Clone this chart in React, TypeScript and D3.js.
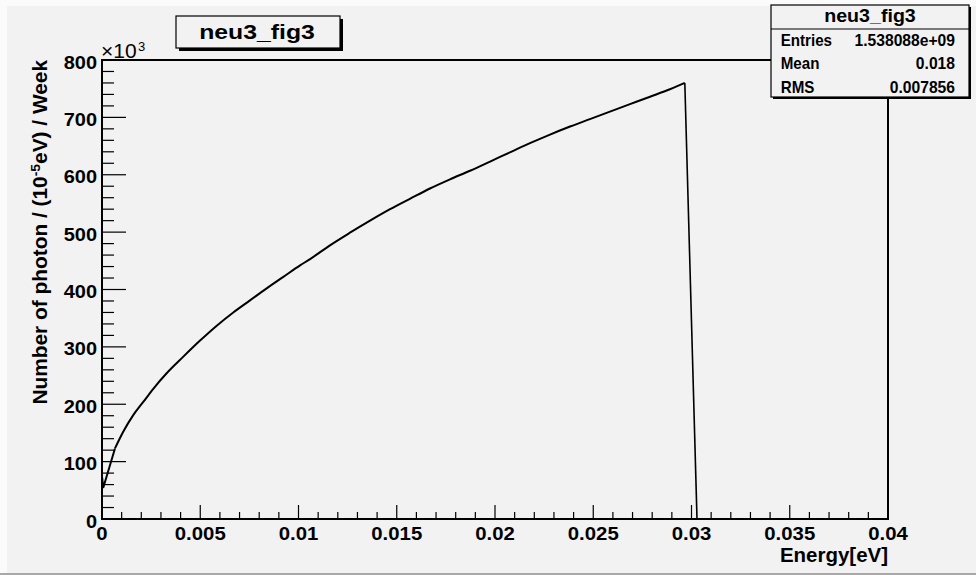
import React from "react";
import * as d3 from "d3";

// Photon energy spectrum (histogram drawn as a polyline)
const energy = [
  0.00001, 0.00006, 0.00066, 0.00108, 0.00159, 0.0021, 0.00261, 0.00329, 0.00414,
  0.00499, 0.00584, 0.00668, 0.00753, 0.00838, 0.00923, 0.01008, 0.01059, 0.0116,
  0.01262, 0.01364, 0.01466, 0.01567, 0.01669, 0.01771, 0.01873, 0.01975, 0.02076,
  0.02178, 0.0228, 0.02382, 0.02483, 0.02585, 0.02687, 0.02789, 0.0289, 0.02966,
  0.03028,
];
const photons = [
  72, 54, 123, 152, 181, 204, 227, 254, 283,
  311, 337, 360, 381, 402, 422, 442, 453, 477,
  499, 520, 540, 558, 576, 592, 607, 623, 639,
  655, 670, 684, 697, 710, 723, 736, 749, 760,
  0,
];

const xTicks = [0, 0.005, 0.01, 0.015, 0.02, 0.025, 0.03, 0.035, 0.04];
const xTickLabels = ["0", "0.005", "0.01", "0.015", "0.02", "0.025", "0.03", "0.035", "0.04"];
const yTicks = [0, 100, 200, 300, 400, 500, 600, 700, 800];

const histTitle = "neu3_fig3";
const statLabels = ["Entries", "Mean", "RMS"];
const statValues = ["1.538088e+09", "0.018", "0.007856"];

const W = 976;
const H = 575;
const FONT = "'Liberation Sans', Arial, Helvetica, sans-serif";
const BG = "#f2f2f2";

export default function App() {
  const x = d3.scaleLinear().domain([0, 0.04]).range([102, 888]);
  const y = d3.scaleLinear().domain([0, 800]).range([519, 60]);

  const pts: [number, number][] = energy.map((e, i) => [e, photons[i]]);
  const last = pts.length - 1;
  // straight segments near the origin and at the cut-off, smooth body between
  const head = pts.slice(0, 3);
  const body = pts.slice(2, last);
  const tail = pts.slice(last - 1);

  const linear = d3
    .line<[number, number]>()
    .x((d) => x(d[0]))
    .y((d) => y(d[1]));
  const smooth = d3
    .line<[number, number]>()
    .x((d) => x(d[0]))
    .y((d) => y(d[1]))
    .curve(d3.curveMonotoneX);

  const xMinor = d3.range(0, 41).map((i) => i * 0.001);
  const yMinor = d3.range(0, 41).map((i) => i * 20);

  const tickText = {
    fontFamily: FONT,
    fontWeight: 700,
    fontSize: 18.5,
  };

  return (
    <svg
      width={W}
      height={H}
      style={{ position: "absolute", left: 0, top: 0, display: "block" }}
    >
      <rect x={0} y={0} width={W} height={H} fill="#fbfbfb" />
      <rect x={7} y={6} width={W - 7} height={567} fill={BG} />
      <rect x={0} y={573} width={W} height={2} fill="#a8a8a8" />

      {/* x axis ticks */}
      {xMinor.map((t, i) => {
        const major = i % 5 === 0;
        return (
          <line
            key={"xm" + i}
            x1={x(t)}
            x2={x(t)}
            y1={519}
            y2={519 - (major ? 14 : 7)}
            stroke="#000"
            strokeWidth={1.2}
          />
        );
      })}
      {/* y axis ticks */}
      {yMinor.map((t, i) => {
        const major = i % 5 === 0;
        return (
          <line
            key={"ym" + i}
            x1={102}
            x2={102 + (major ? 24 : 12)}
            y1={y(t)}
            y2={y(t)}
            stroke="#000"
            strokeWidth={1.2}
          />
        );
      })}

      {/* frame */}
      <rect x={102} y={60} width={786} height={459} fill="none" stroke="#000" strokeWidth={2} />

      {/* spectrum */}
      <g fill="none" stroke="#000" strokeWidth={2} strokeLinejoin="miter">
        <path d={linear(head) || ""} />
        <path d={smooth(body) || ""} />
        <path d={linear(tail) || ""} strokeWidth={1.6} />
      </g>

      {/* x tick labels */}
      {xTicks.map((t, i) => (
        <text
          key={"xl" + i}
          transform={`translate(${x(t)},540) scale(1.1,1)`}
          textAnchor="middle"
          {...tickText}
        >
          {xTickLabels[i]}
        </text>
      ))}
      {/* y tick labels */}
      {yTicks.map((t, i) => (
        <text
          key={"yl" + i}
          transform={`translate(97,${y(t) + 8.5}) scale(1.08,1)`}
          textAnchor="end"
          {...tickText}
        >
          {String(t)}
        </text>
      ))}

      {/* axis exponent */}
      <text x={101} y={58} fontFamily={FONT} fontSize={21} fontWeight={400}>
        ×10
      </text>
      <text x={138} y={51} fontFamily={FONT} fontSize={13} fontWeight={400}>
        3
      </text>

      {/* axis titles */}
      <text
        transform="translate(888,561.7) scale(1.05,1)"
        textAnchor="end"
        fontFamily={FONT}
        fontWeight={700}
        fontSize={19.5}
      >
        Energy[eV]
      </text>
      <text
        transform="translate(47,60) rotate(-90) scale(1.07,1)"
        textAnchor="end"
        fontFamily={FONT}
        fontWeight={700}
        fontSize={19.5}
      >
        Number of photon / (10
        <tspan dy={-7} fontSize={13}>
          -5
        </tspan>
        <tspan dy={7}>eV) / Week</tspan>
      </text>

      {/* histogram title box */}
      <rect x={179} y={19} width={164} height={32} fill="#000" />
      <rect x={176} y={16} width={164} height={32} fill={BG} stroke="#000" strokeWidth={1.2} />
      <text
        transform="translate(257,39) scale(1.18,1)"
        textAnchor="middle"
        fontFamily={FONT}
        fontWeight={700}
        fontSize={21}
      >
        {histTitle}
      </text>

      {/* statistics box */}
      <rect x={773} y={7} width={198} height={92} fill="#000" />
      <rect x={771} y={5} width={198} height={92} fill={BG} stroke="#000" strokeWidth={1.2} />
      <line x1={771} x2={969} y1={29} y2={29} stroke="#000" strokeWidth={1.2} />
      <text
        transform="translate(870,22) scale(1.09,1)"
        textAnchor="middle"
        fontFamily={FONT}
        fontWeight={700}
        fontSize={18}
      >
        {histTitle}
      </text>
      {statLabels.map((s, i) => {
        const by = [46, 68.8, 92.5][i];
        return (
          <g key={"st" + i}>
            <text
              transform={`translate(780.7,${by}) scale(0.93,1)`}
              fontFamily={FONT}
              fontWeight={700}
              fontSize={16.3}
            >
              {s}
            </text>
            <text
              transform={`translate(955,${by}) scale(0.96,1)`}
              textAnchor="end"
              fontFamily={FONT}
              fontWeight={700}
              fontSize={16.3}
            >
              {statValues[i]}
            </text>
          </g>
        );
      })}
    </svg>
  );
}
